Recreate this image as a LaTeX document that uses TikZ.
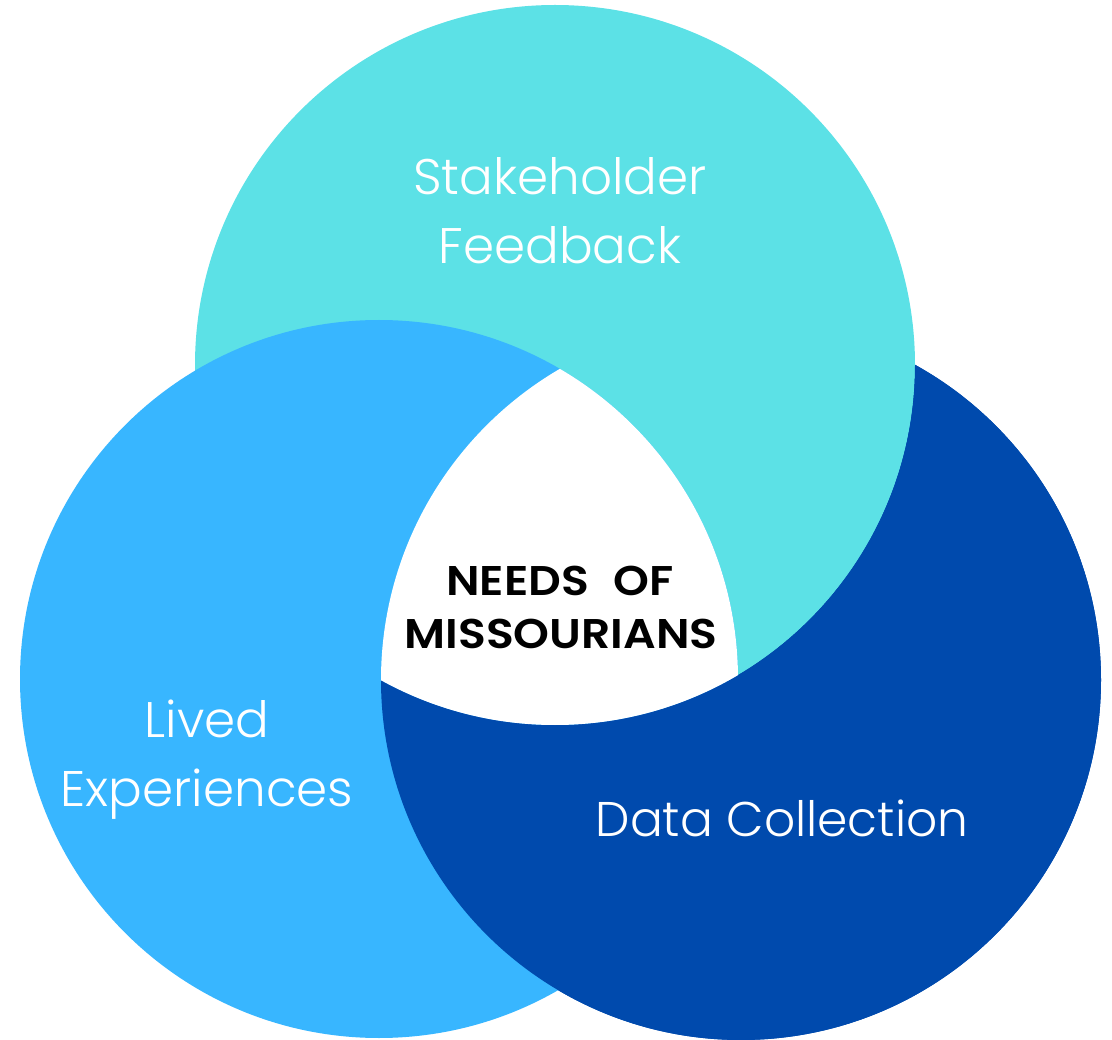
\documentclass[tikz,border=0pt]{standalone}
\usepackage{fontspec}
\setmainfont{Poppins Light}[BoldFont={Poppins SemiBold}, BoldFeatures={FakeStretch=1.1}]
\definecolor{cyanc}{HTML}{5CE1E6}
\definecolor{lightc}{HTML}{38B6FF}
\definecolor{darkc}{HTML}{004AAD}
\tikzset{
  lbl/.style={text=white, inner sep=0pt, anchor=base, font=\fontsize{50}{60}\selectfont},
  ctr/.style={text=black, inner sep=0pt, anchor=base, font=\bfseries\fontsize{41.5}{50}\selectfont}
}
\begin{document}
\begin{tikzpicture}[x=1pt,y=-1pt]
\useasboundingbox (0,0) rectangle (1112,1040);
\coordinate (T) at (555,365);
\coordinate (L) at (379,679);
\coordinate (R) at (741,680);
\def\rT{360pt}\def\rL{359pt}\def\rR{360pt}
% dark circle (Data Collection), under the cyan one
\fill[darkc] (R) circle[radius=\rR];
% cyan circle (Stakeholder Feedback), over the dark one
\fill[cyanc] (T) circle[radius=\rT];
% light circle (Lived Experiences), over the cyan one
\fill[lightc] (L) circle[radius=\rL];
% dark circle over the light one, outside the cyan circle
\begin{scope}[even odd rule]
  \clip (-20,-20) rectangle (1132,1060) (T) circle[radius=\rT];
  \fill[darkc] (R) circle[radius=\rR];
\end{scope}
% white centre where all three meet
\begin{scope}
  \clip (L) circle[radius=\rL];
  \clip (T) circle[radius=\rT];
  \fill[white] (R) circle[radius=\rR];
\end{scope}
\node[lbl] (sf1) at (560,195) {Stakeholder};
\node[lbl] (sf2) at (560,264) {Feedback};
\node[lbl] (le1) at (207,737) {Lived};
\node[lbl] (le2) at (207,806) {Experiences};
\node[lbl, font=\fontsize{48.7}{58}\selectfont] (dc) at (782,836) {Data Collection};
\node[ctr] (n1) at (560,595) {NEEDS\hspace{0.6em}OF};
\node[ctr] (n2) at (561,648) {MISSOURIANS};
\end{tikzpicture}
\end{document}
